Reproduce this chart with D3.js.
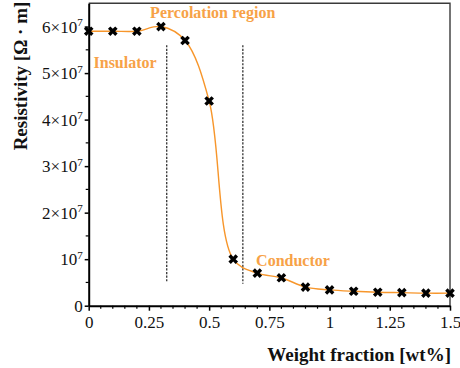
<!DOCTYPE html>
<html>
<head>
<meta charset="utf-8">
<script src="https://cdn.jsdelivr.net/npm/d3@7"></script>
<style>
  html, body { margin: 0; padding: 0; background: #fff; }
  svg { display: block; }
  text { font-family: "Liberation Serif", "Times New Roman", serif; }
</style>
</head>
<body>
<svg id="chart" width="460" height="368"></svg>
<script>
// Weight fraction (wt%) and measured resistivity (in units of 10^7 Ω·m)
const fractions   = [0, 0.1, 0.2, 0.3, 0.4, 0.5, 0.6, 0.7, 0.8, 0.9, 1.0, 1.1, 1.2, 1.3, 1.4, 1.5];
const resistivity = [5.9, 5.9, 5.9, 6.0, 5.7, 4.4, 1.0, 0.70, 0.60, 0.40, 0.34, 0.31, 0.29, 0.28, 0.27, 0.27];

const xTicks = [0, 0.25, 0.5, 0.75, 1, 1.25, 1.5];
const xTickLabels = ["0", "0.25", "0.5", "0.75", "1", "1.25", "1.5"];
const yTicks = [0, 1, 2, 3, 4, 5, 6];
const yTickMantissa = ["0", "", "2\u00d7", "3\u00d7", "4\u00d7", "5\u00d7", "6\u00d7"];

// Boundaries of the percolation region (wt%)
const boundaries = [0.324, 0.64];
const boundaryTop = 5.6, boundaryBottoms = [0.5, 0.47];

const regionLabels = [
  { text: "Percolation region", x: 0.255, y: 6.18 },
  { text: "Insulator", x: 0.02, y: 5.1 },
  { text: "Conductor", x: 0.695, y: 0.85 }
];

const orangeLine = "#F7962B";
const orangeText = "#F7A247";

const svg = d3.select("#chart");
const margin = { left: 88.7, right: 10, top: 3.3, bottom: 62.3 };
const W = 460, H = 368;

const x = d3.scaleLinear().domain([0, 1.5]).range([margin.left, W - margin.right]);
const y = d3.scaleLinear().domain([0, 6.5]).range([H - margin.bottom, margin.top]);

// Frame: thin top/right border
svg.append("path")
  .attr("d", `M${x(0)},${y(6.5)}H${x(1.5)}V${y(0)}`)
  .attr("fill", "none").attr("stroke", "#3a3a3a").attr("stroke-width", 1.4);

// Minor ticks
const xMinor = d3.range(0, 1.5001, 0.05).filter(v => Math.abs(v / 0.25 - Math.round(v / 0.25)) > 1e-6);
svg.append("g").selectAll("line").data(xMinor).join("line")
  .attr("x1", d => x(d)).attr("x2", d => x(d))
  .attr("y1", y(0)).attr("y2", y(0) + 3)
  .attr("stroke", "#000").attr("stroke-width", 1.2);
const yMinor = d3.range(0.5, 6.5, 1);
svg.append("g").selectAll("line").data(yMinor).join("line")
  .attr("x1", x(0) - 3).attr("x2", x(0))
  .attr("y1", d => y(d)).attr("y2", d => y(d))
  .attr("stroke", "#000").attr("stroke-width", 1.2);

// X axis
const xAxis = svg.append("g")
  .attr("transform", `translate(0,${y(0)})`)
  .call(d3.axisBottom(x).tickValues(xTicks).tickFormat((d, i) => xTickLabels[i]).tickSize(5).tickSizeOuter(0).tickPadding(5));
xAxis.select(".domain").attr("stroke-width", 2);
xAxis.selectAll(".tick line").attr("stroke-width", 1.5);
xAxis.selectAll(".tick text").attr("font-size", 17).attr("font-family", "Liberation Serif").attr("fill", "#111");

// Y axis
const yAxis = svg.append("g")
  .attr("transform", `translate(${x(0)},0)`)
  .call(d3.axisLeft(y).tickValues(yTicks).tickFormat("").tickSize(4).tickSizeOuter(0));
yAxis.select(".domain").attr("stroke-width", 2);
yAxis.selectAll(".tick line").attr("stroke-width", 1.5);
yAxis.selectAll(".tick").each(function (d, i) {
  const t = d3.select(this).append("text")
    .attr("x", -6).attr("dy", "0.34em")
    .attr("text-anchor", "end")
    .attr("font-size", 17).attr("fill", "#111");
  if (d === 0) {
    t.text("0");
  } else {
    t.append("tspan").text(yTickMantissa[i] + "10");
    t.append("tspan").attr("font-size", 11).attr("dy", "-0.6em").text("7");
  }
});

// Percolation boundaries
svg.append("g").selectAll("line").data(boundaries).join("line")
  .attr("x1", d => x(d)).attr("x2", d => x(d))
  .attr("y1", y(boundaryTop)).attr("y2", (d, i) => y(boundaryBottoms[i]))
  .attr("stroke", "#222").attr("stroke-width", 1.2)
  .attr("stroke-dasharray", "2.2,1.4");

// Fitted curve through the measurements
const pts = fractions.map((f, i) => [f, resistivity[i]]);
svg.append("path")
  .datum(pts)
  .attr("fill", "none")
  .attr("stroke", orangeLine)
  .attr("stroke-width", 1.4)
  .attr("d", d3.line().x(d => x(d[0])).y(d => y(d[1])).curve(d3.curveCatmullRom.alpha(0.5)));

// Markers
const marker = d3.symbol().type(d3.symbolCross).size(58);
svg.append("g").selectAll("path").data(pts).join("path")
  .attr("d", marker)
  .attr("transform", d => `translate(${x(d[0])},${y(d[1])}) rotate(45)`)
  .attr("fill", "#000");

// Region labels
svg.append("g").selectAll("text").data(regionLabels).join("text")
  .attr("x", d => x(d.x)).attr("y", d => y(d.y))
  .attr("font-size", 16).attr("font-weight", "bold")
  .attr("fill", orangeText)
  .text(d => d.text);

// Axis titles
svg.append("text")
  .attr("x", 451).attr("y", 361)
  .attr("text-anchor", "end")
  .attr("font-size", 19).attr("font-weight", "bold").attr("fill", "#111")
  .text("Weight fraction [wt%]");

svg.append("text")
  .attr("transform", "translate(27,76) rotate(-90)")
  .attr("text-anchor", "middle")
  .attr("font-size", 19).attr("font-weight", "bold").attr("fill", "#111")
  .text("Resistivity [\u03a9 \u00b7 m]");
</script>
</body>
</html>
